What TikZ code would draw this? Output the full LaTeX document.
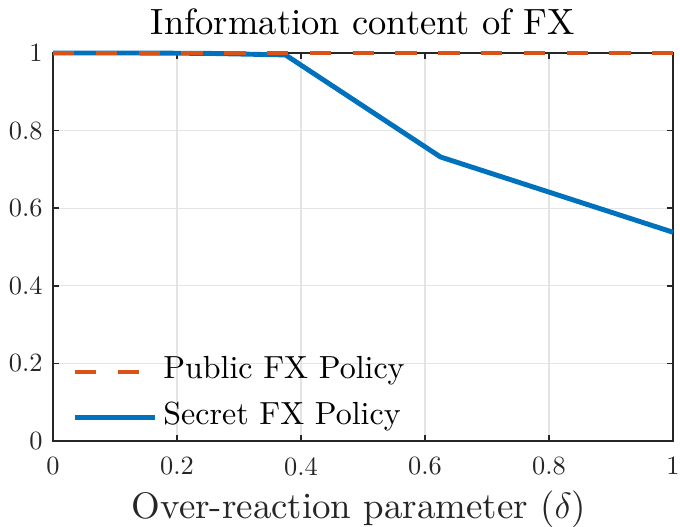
\documentclass[tikz,border=0pt]{standalone}
\usetikzlibrary{calc}
% one design size only, scaled to every size
\DeclareFontFamily{TU}{lmrten}{}
\DeclareFontShape{TU}{lmrten}{m}{n}{<-> "[lmroman10-regular]:+tlig;"}{}
\renewcommand{\rmdefault}{lmrten}
\definecolor{matblue}{RGB}{0,114,189}
\definecolor{matorange}{RGB}{217,83,25}
\definecolor{axisgray}{RGB}{38,38,38}
\definecolor{gridgray}{RGB}{228,228,228}
\tikzstyle{gridline}=[draw=gridgray,line width=0.7pt]
\tikzstyle{axisline}=[draw=axisgray,line width=0.8pt]
\tikzstyle{ticklabel}=[font=\fontsize{15}{18}\selectfont,text=axisgray,inner sep=0pt]
\tikzstyle{secretline}=[draw=matblue,line width=2.8pt]
\tikzstyle{publicline}=[draw=matorange,line width=2.8pt,dash pattern=on 0.428cm off 0.428cm]
\tikzstyle{legendtext}=[font=\fontsize{18.2}{21}\selectfont,anchor=base west,inner sep=0pt]

\begin{document}
\begin{tikzpicture}[x=12.4cm, y=7.76cm]

    \useasboundingbox (-1.06cm,-1.72cm) rectangle (12.54cm,8.82cm);

    % grid
    \foreach \v in {0.2,0.4,0.6,0.8}
    {
        \path[gridline] (\v,0) -- (\v,1);
        \path[gridline] (0,\v) -- (1,\v);
    }

    % axes box and ticks
    \path[axisline] (0,0) rectangle (1,1);
    \foreach \v / \name in {0/0, 0.2/0.2, 0.4/0.4, 0.6/0.6, 0.8/0.8, 1/1}
    {
        \path[axisline] (\v,0) -- ++(0,0.12cm);
        \path[axisline] (\v,1) -- ++(0,-0.12cm);
        \path[axisline] (0,\v) -- ++(0.12cm,0);
        \path[axisline] (1,\v) -- ++(-0.12cm,0);
        \node[ticklabel,anchor=north] (xtick\name) at ($(\v,0)+(0,-0.32cm)$) {\name};
        \node[ticklabel,anchor=east] (ytick\name) at ($(0,\v)+(-0.2cm,0)$) {\name};
    }

    % data points of the secret policy
    \foreach \x/ \y/ \name in {0/1/p1, 0.125/1/p2, 0.25/0.999/p3, 0.375/0.995/p4, 0.625/0.732/p5, 1/0.538/p6}
        \coordinate (\name) at (\x,\y);
    \coordinate (q1) at (0,1);
    \coordinate (q2) at (1,1);

    \path[secretline] (p1) -- (p2) -- (p3) -- (p4) -- (p5) -- (p6);
    \path[publicline] (q1) -- (q2);

    % legend
    \coordinate (pubstart) at (0.44cm,1.38cm);
    \coordinate (pubend) at (2.04cm,1.38cm);
    \coordinate (secstart) at (0.44cm,0.47cm);
    \coordinate (secend) at (2.04cm,0.47cm);
    \path[publicline] (pubstart) -- (pubend);
    \path[secretline] (secstart) -- (secend);
    \node[legendtext] (publabel) at (2.2cm,1.24cm) {Public FX Policy};
    \node[legendtext] (seclabel) at (2.2cm,0.32cm) {Secret FX Policy};

    % title and axis label
    \node[font=\fontsize{20.8}{25}\selectfont,anchor=base,inner sep=0pt] (title) at (6.2cm,8.12cm) {Information content of FX};
    \node[font=\fontsize{21}{25}\selectfont,anchor=base,text=axisgray,inner sep=0pt] (xlabel) at (6.12cm,-1.54cm) {Over-reaction parameter ($\delta$)};

\end{tikzpicture}
\end{document}
